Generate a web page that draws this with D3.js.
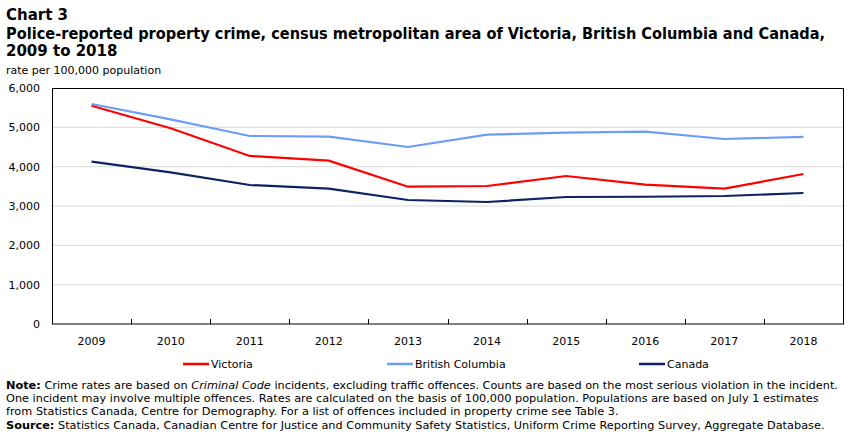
<!DOCTYPE html>
<html>
<head>
<meta charset="utf-8">
<script src="https://cdn.jsdelivr.net/npm/d3@7"></script>
<style>
  body { margin: 0; background: #fff; }
  text { font-family: "DejaVu Sans", Verdana, sans-serif; fill: #000; }
</style>
</head>
<body>
<div class="chart"></div>
<script>
// Data
const years = [2009, 2010, 2011, 2012, 2013, 2014, 2015, 2016, 2017, 2018];
const victoria = [5550, 4975, 4272, 4152, 3491, 3509, 3763, 3542, 3440, 3814];
const britishColumbia = [5594, 5204, 4780, 4763, 4500, 4814, 4864, 4890, 4704, 4755];
const canada = [4127, 3857, 3534, 3440, 3153, 3102, 3229, 3235, 3254, 3331];
const yTicks = [0, 1000, 2000, 3000, 4000, 5000, 6000];

const series = [
    {name: "Victoria", values: victoria, color: "#ff0000"},
    {name: "British Columbia", values: britishColumbia, color: "#6d9cf6"},
    {name: "Canada", values: canada, color: "#0b2461"}
];

const W = 851, H = 435;
const margin = {top: 88, right: 8, bottom: 111, left: 52};
const w = W - margin.left - margin.right;
const h = H - margin.top - margin.bottom;

const root = d3.select(".chart")
    .append("svg")
        .attr("width", W)
        .attr("height", H);

// Titles
root.append("text").attr("x", 6).attr("y", 20)
    .style("font-size", "15px").style("font-weight", "bold")
    .text("Chart 3");
root.append("text").attr("x", 6).attr("y", 39)
    .attr("textLength", 819).attr("lengthAdjust", "spacingAndGlyphs")
    .style("font-size", "15px").style("font-weight", "bold")
    .text("Police-reported property crime, census metropolitan area of Victoria, British Columbia and Canada,");
root.append("text").attr("x", 6).attr("y", 56)
    .style("font-size", "15px").style("font-weight", "bold")
    .text("2009 to 2018");
root.append("text").attr("x", 6).attr("y", 74)
    .style("font-size", "11px")
    .text("rate per 100,000 population");

const svg = root.append("g")
    .attr("transform", "translate(" + margin.left + "," + margin.top + ")");

// Scales
const x = d3.scaleBand().domain(years).range([0, w]);
const y = d3.scaleLinear().domain([0, 6000]).range([h, 0]);

// Gridlines
svg.append("g")
    .selectAll("line")
    .data(yTicks.filter(d => d > 0 && d < 6000))
    .enter()
    .append("line")
        .attr("x1", 0).attr("x2", w)
        .attr("y1", d => y(d)).attr("y2", d => y(d))
        .attr("stroke", "#d9d9d9")
        .attr("stroke-width", 1);

// Y axis labels
const yAxis = svg.append("g")
    .call(d3.axisLeft(y).tickValues(yTicks).tickSize(0).tickPadding(12).tickFormat(d3.format(",")));
yAxis.select(".domain").remove();
yAxis.selectAll("text")
    .style("font-size", "11px")
    .style("font-family", "DejaVu Sans, Verdana, sans-serif");

// X axis: ticks at band edges, pointing up
svg.append("g")
    .selectAll("line")
    .data(years.slice(1))
    .enter()
    .append("line")
        .attr("x1", d => Math.round(x(d)) + 0.5).attr("x2", d => Math.round(x(d)) + 0.5)
        .attr("y1", h).attr("y2", h - 5)
        .attr("stroke", "#000");

const xAxis = svg.append("g")
    .attr("transform", "translate(0," + h + ")")
    .call(d3.axisBottom(x).tickSize(0).tickPadding(13));
xAxis.select(".domain").remove();
xAxis.selectAll("text")
    .style("font-size", "11px")
    .style("font-family", "DejaVu Sans, Verdana, sans-serif");

// Frame
svg.append("rect")
    .attr("x", 0.5).attr("y", 0.5)
    .attr("width", w).attr("height", h - 0.5)
    .attr("fill", "none")
    .attr("stroke", "#000");

// Lines
const line = d3.line()
    .x((d, i) => x(years[i]) + x.bandwidth() / 2)
    .y(d => y(d));

svg.selectAll(".series")
    .data(series)
    .enter()
    .append("path")
        .attr("class", "series")
        .attr("d", d => line(d.values))
        .attr("fill", "none")
        .attr("stroke", d => d.color)
        .attr("stroke-width", 2.2);

// Legend
const legendX = [183, 387, 639];
const legend = root.append("g")
    .selectAll("g")
    .data(series)
    .enter()
    .append("g")
        .attr("transform", (d, i) => "translate(" + legendX[i] + ",364)");
legend.append("line")
    .attr("x1", 0).attr("x2", 26)
    .attr("stroke", d => d.color)
    .attr("stroke-width", 2.5);
legend.append("text")
    .attr("x", 28).attr("y", 4)
    .style("font-size", "11px")
    .text(d => d.name);

// Notes
const notes = root.append("g").style("font-size", "11.3px");
const n1 = notes.append("text").attr("x", 6).attr("y", 389);
n1.append("tspan").style("font-weight", "bold").text("Note:");
n1.append("tspan").text(" Crime rates are based on ");
n1.append("tspan").style("font-style", "italic").text("Criminal Code");
n1.append("tspan").text(" incidents, excluding traffic offences. Counts are based on the most serious violation in the incident.");
notes.append("text").attr("x", 6).attr("y", 402)
    .text("One incident may involve multiple offences. Rates are calculated on the basis of 100,000 population. Populations are based on July 1 estimates");
notes.append("text").attr("x", 6).attr("y", 415)
    .text("from Statistics Canada, Centre for Demography. For a list of offences included in property crime see Table 3.");
const n4 = notes.append("text").attr("x", 6).attr("y", 429);
n4.append("tspan").style("font-weight", "bold").text("Source:");
n4.append("tspan").text(" Statistics Canada, Canadian Centre for Justice and Community Safety Statistics, Uniform Crime Reporting Survey, Aggregate Database.");
</script>
</body>
</html>
